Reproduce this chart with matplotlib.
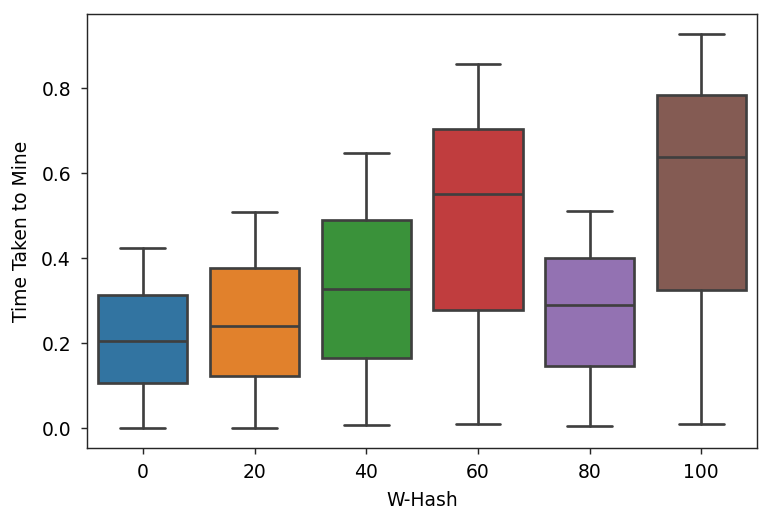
import matplotlib
matplotlib.use("Agg")
import matplotlib.pyplot as plt
import seaborn as sns

sns.set_style("ticks")
plt.rcParams['font.family'] = ['DejaVu Sans']
plt.rcParams['font.size'] = 10.5
plt.rcParams['text.color'] = 'black'
plt.rcParams['axes.labelcolor'] = 'black'
plt.rcParams['xtick.labelcolor'] = 'black'
plt.rcParams['ytick.labelcolor'] = 'black'
plt.rcParams['xtick.major.size'] = 3.5
plt.rcParams['ytick.major.size'] = 3.5
plt.rcParams['xtick.major.pad'] = 5
plt.rcParams['ytick.major.pad'] = 5.5
plt.rcParams['xtick.major.width'] = 0.8
plt.rcParams['ytick.major.width'] = 0.8
plt.rcParams['axes.linewidth'] = 0.8

# W-Hash 分组及每组箱线图统计量
groups = ['0', '20', '40', '60', '80', '100']
whis_lo = [0.000, 0.000, 0.007, 0.009, 0.005, 0.009]
q1 = [0.107, 0.122, 0.166, 0.279, 0.147, 0.325]
median = [0.206, 0.240, 0.327, 0.552, 0.290, 0.639]
q3 = [0.314, 0.376, 0.489, 0.704, 0.400, 0.784]
whis_hi = [0.423, 0.510, 0.648, 0.856, 0.511, 0.928]

colors = ['#3274a1', '#e1812c', '#3a923a', '#c03d3e', '#9372b2', '#845b53']
line_color = '#3f3f3f'

stats = []
for i, g in enumerate(groups):
    stats.append({'label': g, 'whislo': whis_lo[i], 'q1': q1[i], 'med': median[i],
                  'q3': q3[i], 'whishi': whis_hi[i], 'fliers': []})

dpi = 128.5
fig = plt.figure(figsize=(771 / dpi, 523 / dpi), dpi=dpi)
ax = fig.add_axes([0.1128, 0.1434, 0.8692, 0.8296])

lw = 1.5
bp = ax.bxp(stats, positions=range(len(groups)), widths=0.8, patch_artist=True,
            showfliers=False,
            boxprops=dict(edgecolor=line_color, linewidth=lw),
            medianprops=dict(color=line_color, linewidth=lw),
            whiskerprops=dict(color=line_color, linewidth=lw),
            capprops=dict(color=line_color, linewidth=lw),
            capwidths=0.4)
for patch, c in zip(bp['boxes'], colors):
    patch.set_facecolor(c)

ax.set_xlim(-0.5, len(groups) - 0.5)
ax.set_xticks(range(len(groups)))
ax.set_xticklabels(groups)
ax.margins(y=0.05)
ax.set_xlabel('W-Hash', labelpad=5)
ax.set_ylabel('Time Taken to Mine', labelpad=5.5)

plt.savefig('out.png', dpi=dpi)
plt.close()
